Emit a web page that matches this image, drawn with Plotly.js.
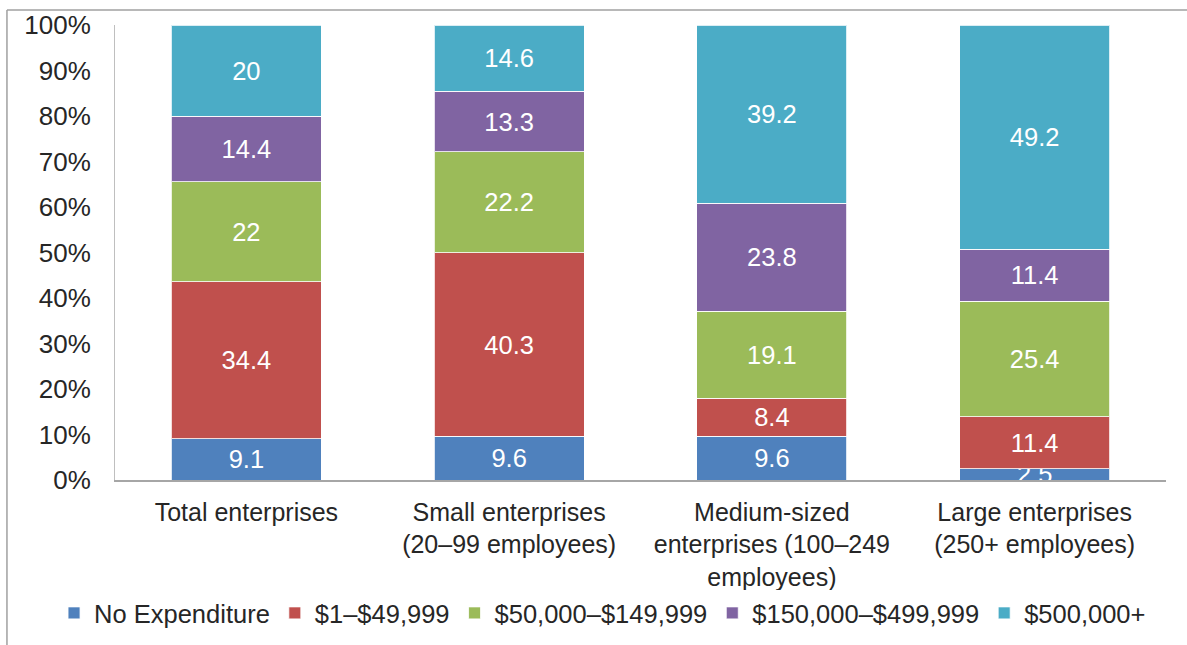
<!DOCTYPE html>
<html>
<head>
<meta charset="utf-8">
<script src="https://cdn.plot.ly/plotly-3.0.1.min.js"></script>
<style>
html,body{margin:0;padding:0;background:#fff;}
#chart{width:1187px;height:645px;}
</style>
</head>
<body>
<div id="chart"></div>
<script>
var categories = [
  "Total enterprises",
  "Small enterprises<br>(20–99 employees)",
  "Medium-sized<br>enterprises (100–249<br>employees)",
  "Large enterprises<br>(250+ employees)"
];
var seriesNames = ["No Expenditure", "$1–$49,999", "$50,000–$149,999", "$150,000–$499,999", "$500,000+"];
var noExpenditure = [9.1, 9.6, 9.6, 2.5];
var upTo49999 = [34.4, 40.3, 8.4, 11.4];
var from50000to149999 = [22, 22.2, 19.1, 25.4];
var from150000to499999 = [14.4, 13.3, 23.8, 11.4];
var from500000 = [20, 14.6, 39.2, 49.2];
var yTickVals = [0, 10, 20, 30, 40, 50, 60, 70, 80, 90, 100];
var yTickText = ["0%", "10%", "20%", "30%", "40%", "50%", "60%", "70%", "80%", "90%", "100%"];
var colors = ["#4F81BD", "#C0504D", "#9BBB59", "#8064A2", "#4BACC6"];

var allSeries = [noExpenditure, upTo49999, from50000to149999, from150000to499999, from500000];
var font = "Liberation Sans, Arial, sans-serif";

var traces = allSeries.map(function (vals, i) {
  return {
    type: "bar",
    name: seriesNames[i],
    x: categories,
    y: vals,
    text: vals.map(function (v) { return String(v); }),
    texttemplate: "%{text}",
    textposition: "inside",
    insidetextanchor: "middle",
    constraintext: "none",
    textfont: {family: font, size: 25.5, color: "#FFFFFF"},
    marker: {color: colors[i], line: {color: "rgba(255,255,255,0.8)", width: 1}},
    hoverinfo: "skip"
  };
});

var layout = {
  width: 1187,
  height: 645,
  margin: {l: 115, r: 21, t: 25, b: 165, autoexpand: false},
  paper_bgcolor: "#FFFFFF",
  plot_bgcolor: "#FFFFFF",
  barmode: "stack",
  barnorm: "percent",
  bargap: 0.43,
  font: {family: font, size: 26, color: "#262626"},
  showlegend: true,
  legend: {
    orientation: "h",
    x: -0.058, xanchor: "left",
    y: -0.293, yanchor: "middle",
    font: {family: font, size: 25.5, color: "#262626"},
    itemclick: false, itemdoubleclick: false,
    traceorder: "normal"
  },
  xaxis: {
    type: "category",
    showline: true,
    linecolor: "#A6A6A6",
    linewidth: 1.5,
    ticks: "",
    showgrid: false,
    zeroline: false,
    tickfont: {family: font, size: 25, color: "#262626"},
    ticklabelstandoff: 9
  },
  yaxis: {
    range: [0, 100],
    tickvals: yTickVals,
    ticktext: yTickText,
    showline: true,
    linecolor: "#BFBFBF",
    linewidth: 1,
    ticks: "",
    showgrid: false,
    zeroline: false,
    tickfont: {family: font, size: 26, color: "#262626"},
    ticklabelstandoff: 18
  },
  shapes: [
    {type: "line", xref: "paper", yref: "paper", x0: -0.1028, x1: 1.03, y0: 1.033, y1: 1.033,
     line: {color: "#A0A0A0", width: 1.5}},
    {type: "line", xref: "paper", yref: "paper", x0: -0.1028, x1: -0.1028, y0: 1.033, y1: -0.37,
     line: {color: "#A0A0A0", width: 1.5}}
  ]
};

Plotly.newPlot("chart", traces, layout, {displayModeBar: false, staticPlot: true});
</script>
</body>
</html>
